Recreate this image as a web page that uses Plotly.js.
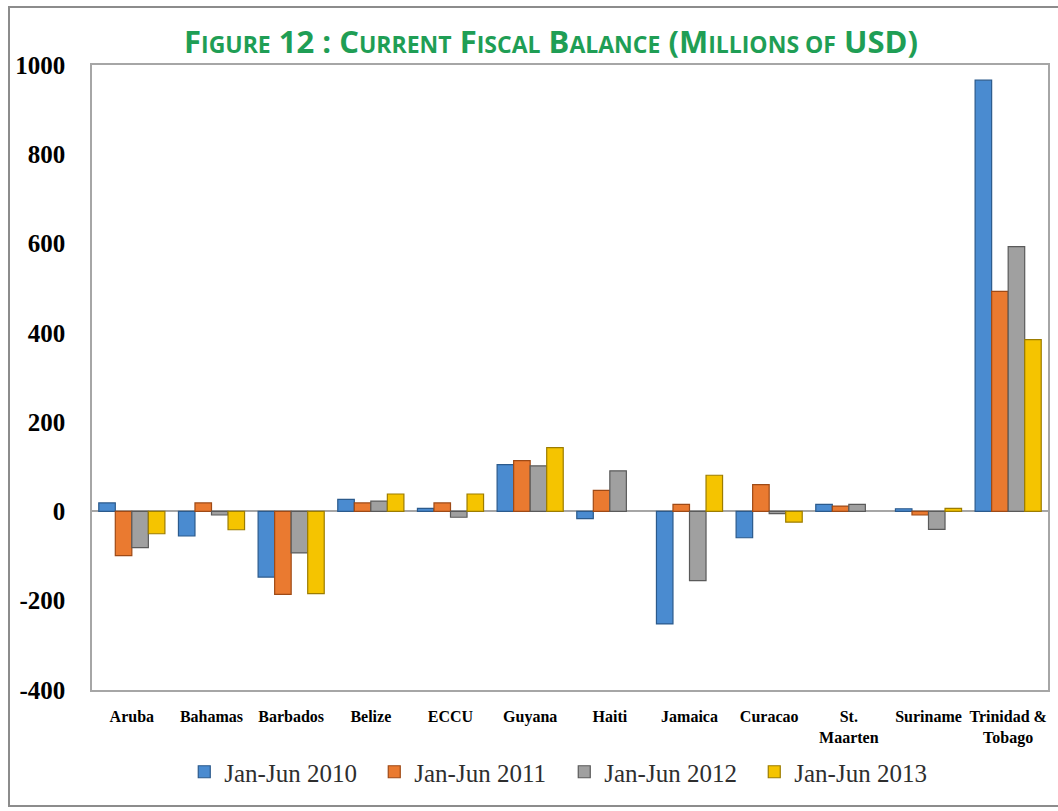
<!DOCTYPE html>
<html>
<head>
<meta charset="utf-8">
<script src="https://cdn.plot.ly/plotly-3.0.1.min.js"></script>
<style>
  html, body { margin:0; padding:0; background:#ffffff; }
  #chart { width:1058px; height:811px; }
  #frame { position:absolute; left:8px; top:6px; width:1080px; height:801px;
           border:2px solid #8c8c8c; pointer-events:none; box-sizing:border-box; }
</style>
</head>
<body>
<div id="chart"></div>
<div id="frame"></div>
<script>
const categories = ["Aruba", "Bahamas", "Barbados", "Belize", "ECCU", "Guyana", "Haiti",
  "Jamaica", "Curacao", "St.<br>Maarten", "Suriname", "Trinidad &<br>Tobago"];
const seriesNames = ["Jan-Jun 2010", "Jan-Jun 2011", "Jan-Jun 2012", "Jan-Jun 2013"];
const jan2010 = [19, -55, -147, 27, 7, 105, -16, -252, -59, 16, 6, 966];
const jan2011 = [-99, 19, -186, 19, 19, 114, 47, 16, 60, 12, -8, 493];
const jan2012 = [-81, -8, -93, 23, -13, 102, 91, -155, -5, 16, -40, 593];
const jan2013 = [-50, -41, -184, 39, 39, 143, null, 81, -24, null, 7, 385];
const yTickVals = [-400, -200, 0, 200, 400, 600, 800, 1000];

const fills = ["#4a8bd0", "#ea7a30", "#a0a0a0", "#f5c400"];
const edges = ["#2b5a8c", "#9e4a16", "#5a5a5a", "#9c7c00"];
const values = [jan2010, jan2011, jan2012, jan2013];

const traces = values.map((v, i) => ({
  type: "bar",
  name: seriesNames[i],
  x: categories,
  y: v,
  marker: { color: fills[i], line: { color: edges[i], width: 1.2 } },
  hoverinfo: "x+y+name"
}));

const sc = s => "<span style='font-size:23px'>" + s + "</span>";
const titleText = "F" + sc("IGURE") + " 12 : C" + sc("URRENT") + " F" + sc("ISCAL") +
  " B" + sc("ALANCE") + " (M" + sc("ILLIONS OF") + " USD)";

const layout = {
  width: 1058, height: 811,
  margin: { l: 92, r: 10, t: 65, b: 121 },
  paper_bgcolor: "#ffffff", plot_bgcolor: "#ffffff",
  title: {
    text: titleText,
    font: { family: "Open Sans, sans-serif", size: 31, color: "#1f9e55", weight: "bold" },
    x: 551 / 1058, xref: "container", xanchor: "center",
    y: 1 - 42 / 811, yref: "container", yanchor: "middle"
  },
  barmode: "group",
  bargap: 0.17,
  bargroupgap: 0,
  showlegend: true,
  legend: {
    orientation: "h", x: 0.494, xanchor: "center", xref: "paper",
    y: 1 - 772 / 811, yref: "container", yanchor: "middle",
    font: { family: "Liberation Serif, serif", size: 25, color: "#2e2e2e" },
    entrywidth: 145, entrywidthmode: "pixels",
    itemwidth: 30,
    itemclick: false, itemdoubleclick: false
  },
  xaxis: {
    type: "category",
    showline: true, linecolor: "#a6a6a6", linewidth: 1.5, mirror: true,
    showgrid: false, zeroline: false,
    ticks: "outside", ticklen: 11, tickcolor: "rgba(0,0,0,0)",
    tickfont: { family: "Liberation Serif, serif", size: 16, color: "#000000", weight: "bold" },
    tickangle: 0, fixedrange: true
  },
  yaxis: {
    range: [-400, 1000],
    tickvals: yTickVals,
    ticktext: yTickVals.map(String),
    showline: true, linecolor: "#a6a6a6", linewidth: 1.5, mirror: true,
    showgrid: false,
    zeroline: true, zerolinecolor: "#a6a6a6", zerolinewidth: 1.5,
    ticks: "outside", ticklen: 20, tickcolor: "rgba(0,0,0,0)",
    tickfont: { family: "Liberation Serif, serif", size: 25, color: "#000000", weight: "bold" },
    fixedrange: true
  }
};

Plotly.newPlot("chart", traces, layout, { displayModeBar: false });
</script>
</body>
</html>
